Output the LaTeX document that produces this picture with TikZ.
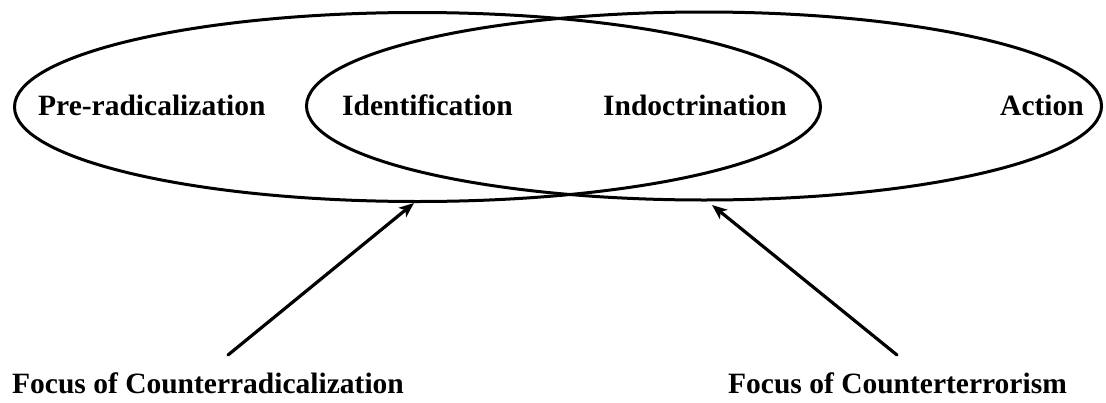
\documentclass[tikz,border=0pt]{standalone}
\usepackage{fontspec}
\setmainfont{Liberation Serif}
\usetikzlibrary{arrows.meta}
\begin{document}
\begin{tikzpicture}[x=1pt,y=-1pt,
  outline/.style={line width=3pt},
  pointer/.style={line width=3.2pt,line cap=round,-{Stealth[length=15pt,width=12pt,inset=4pt]}},
  lbl/.style={anchor=base west,inner sep=0pt,font=\fontsize{29.5}{32}\selectfont\bfseries}]
\useasboundingbox (0,0) rectangle (1106,402);
% ellipses
\draw[outline] (417.5,107) ellipse [x radius=403, y radius=94.5];
\draw[outline] (704,106) ellipse [x radius=397.5, y radius=94];
% labels
\node[lbl] (pre) at (38,115) {Pre-radicalization};
\node[lbl] (ide) at (342,115) {Identification};
\node[lbl] (ind) at (603,115) {Indoctrination};
\node[lbl] (act) at (1000,115) {Action};
\node[lbl] (fcr) at (12,393) {Focus of Counterradicalization};
\node[lbl] (fct) at (728,393) {Focus of Counterterrorism};
% arrows
\coordinate (t1) at (228,355);
\coordinate (h1) at (414,203);
\coordinate (t2) at (897,355);
\coordinate (h2) at (712,205);
\draw[pointer] (t1) -- (h1);
\draw[pointer] (t2) -- (h2);
\end{tikzpicture}
\end{document}
